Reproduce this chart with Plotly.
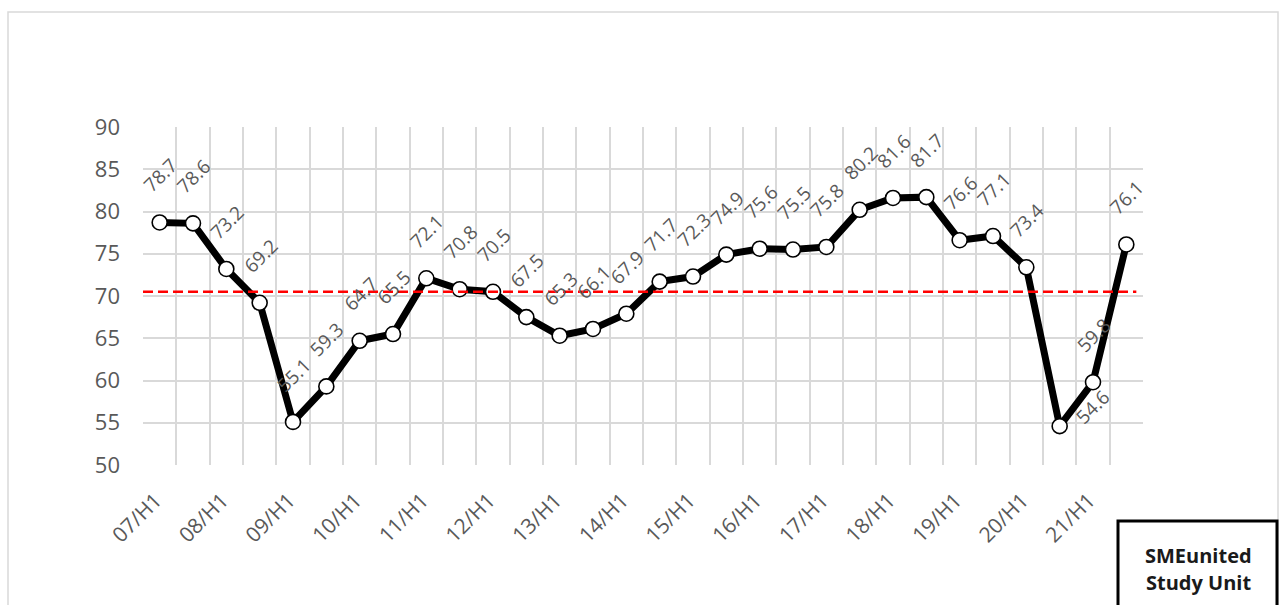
import plotly.graph_objects as go

# Half-year periods, 2007 H1 through 2021 H2
periods = [f"{y:02d}/H{h}" for y in range(7, 22) for h in (1, 2)]

# Index values per half-year
index_values = [
    78.7, 78.6, 73.2, 69.2, 55.1, 59.3, 64.7, 65.5, 72.1, 70.8,
    70.5, 67.5, 65.3, 66.1, 67.9, 71.7, 72.3, 74.9, 75.6, 75.5,
    75.8, 80.2, 81.6, 81.7, 76.6, 77.1, 73.4, 54.6, 59.8, 76.1,
]

# Long-run average reference level
avg_level = 70.5

# Axis tick labels: every first half-year
tick_positions = list(range(0, len(periods), 2))
tick_labels = periods[::2]

y_ticks = [50, 55, 60, 65, 70, 75, 80, 85, 90]

FONT = "Open Sans"
GREY = "#595959"
GRID = "#d9d9d9"

W, H = 1284, 605
M_L, M_R, M_T, M_B = 143, 141, 127, 140
PW, PH = W - M_L - M_R, H - M_T - M_B

# rotated tick labels sit slightly left of the category centre
TICK_LABEL_OFFSET = -0.12


def px_to_paper(px, py):
    return (px - M_L) / PW, (H - M_B - py) / PH


xs = list(range(len(periods)))

fig = go.Figure()

fig.add_trace(go.Scatter(
    x=xs,
    y=index_values,
    mode="lines+markers",
    line=dict(color="black", width=7),
    marker=dict(size=15, color="white", line=dict(color="black", width=1.6)),
    hoverinfo="skip",
    showlegend=False,
))

# Rotated value labels above each point
label_nudge = {27: (33, 19)}
for i, v in enumerate(index_values):
    dx, dy = label_nudge.get(i, (1, 47))
    fig.add_annotation(
        x=xs[i], y=v, xref="x", yref="y",
        text=f"{v:.1f}", showarrow=False, textangle=-45,
        xshift=dx, yshift=dy,
        font=dict(family=FONT, size=19, color=GREY),
    )

shapes = []
# Average reference line
shapes.append(dict(
    type="line", xref="x", yref="y",
    x0=-0.5, x1=29.3, y0=avg_level, y1=avg_level,
    line=dict(color="#ff0000", width=2.5, dash="10px,5px"),
    layer="above",
))

# Outer chart frame
fx0, fy1 = px_to_paper(8, 12)
fx1, fy0 = px_to_paper(1278, 620)
shapes.append(dict(
    type="rect", xref="paper", yref="paper",
    x0=fx0, x1=fx1, y0=fy0, y1=fy1,
    line=dict(color=GRID, width=1.5), fillcolor="rgba(0,0,0,0)",
    layer="below",
))

# Source box
bx0, by1 = px_to_paper(1118, 521)
bx1, by0 = px_to_paper(1277, 640)
shapes.append(dict(
    type="rect", xref="paper", yref="paper",
    x0=bx0, x1=bx1, y0=by0, y1=by1,
    line=dict(color="black", width=3), fillcolor="white",
))

for line_text, py in (("SMEunited", 555), ("Study Unit", 582)):
    tx, ty = px_to_paper(1198, py)
    fig.add_annotation(
        x=tx, y=ty, xref="paper", yref="paper",
        text=f"<b>{line_text}</b>", showarrow=False,
        xanchor="center", yanchor="middle",
        font=dict(family=FONT, size=20, color="#1a1a1a"),
    )

fig.update_layout(
    width=W, height=H,
    margin=dict(l=M_L, r=M_R, t=M_T, b=M_B, pad=0),
    paper_bgcolor="white",
    plot_bgcolor="white",
    shapes=shapes,
    font=dict(family=FONT, color=GREY),
    xaxis=dict(
        range=[-0.5, len(periods) - 0.5],
        tickmode="array",
        tickvals=[p + TICK_LABEL_OFFSET for p in tick_positions],
        ticktext=tick_labels,
        tickangle=-45,
        tickfont=dict(family=FONT, size=21, color=GREY),
        ticklabelstandoff=18,
        showgrid=False,
        zeroline=False,
        showline=False,
        ticks="",
        minor=dict(
            tickmode="array",
            tickvals=[i - 0.5 for i in range(len(periods) + 1)],
            showgrid=True,
            gridcolor=GRID,
            gridwidth=1.5,
            ticks="",
        ),
        fixedrange=True,
    ),
    yaxis=dict(
        range=[50, 90],
        tickmode="array",
        tickvals=y_ticks,
        tickfont=dict(family=FONT, size=22, color=GREY),
        ticklabelstandoff=22,
        showgrid=True,
        gridcolor=GRID,
        gridwidth=1.5,
        zeroline=False,
        showline=False,
        ticks="",
        fixedrange=True,
    ),
)

fig.write_html("out.html")
